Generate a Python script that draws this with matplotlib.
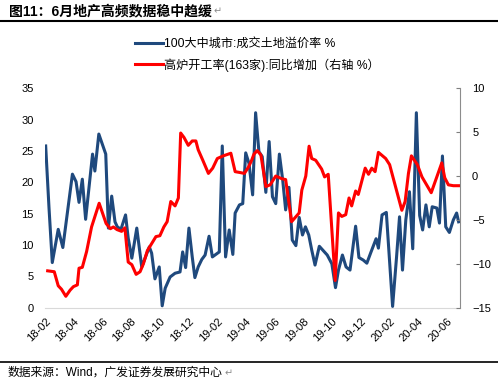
import numpy as np
import pandas as pd
import matplotlib
matplotlib.use('Agg')
import matplotlib.pyplot as plt
import matplotlib.dates as mdates
from matplotlib.lines import Line2D
from matplotlib.text import Annotation

plt.rcParams['font.family'] = ['Liberation Sans', 'Noto Sans CJK SC', 'DejaVu Sans']

# ─── data (weeks since 2018-02-01) ─────────────────────────────────────────
start = pd.Timestamp('2018-02-01')

blue_t = [0, 1, 2, 3.8, 5.2, 8.1, 9.2, 10.1, 11.1, 12.1,
          14.2, 14.9, 16.1, 18.2, 19.0, 20.0, 21.0, 21.7, 22.8, 24.2,
          25.0, 26.1, 27.6, 29.1, 31.4, 32.1, 33.1, 34.4, 35.3, 36.2,
          37.7, 39.2, 40.7, 41.5, 42.4, 43.4, 44.4, 45.2, 46.2, 47.3,
          48.3, 49.5, 50.5, 52.6, 53.5, 54.5, 55.6, 56.7, 57.4, 58.7,
          59.7, 60.6, 61.6, 62.7, 63.6, 64.6, 65.6, 66.7, 67.7, 68.7,
          69.7, 70.8, 71.8, 72.7, 73.7, 74.7, 75.8, 76.8, 77.8, 78.7,
          79.7, 80.6, 81.6, 82.9, 85.3, 86.7, 87.8, 88.7, 89.9,
          91.0, 92.2, 93.9, 94.9, 96.2, 97.3, 98.5, 100.1, 100.8, 101.9,
          103.2, 105.1, 106.3, 107.2, 108.1, 109.1, 110.2, 111.2, 112.3, 113.3,
          114.2, 115.2, 116.2, 117.1, 118.5, 119.3, 120.2, 121.2, 122.3, 123.5,
          124.5, 125.1]
blue_v = [25.8, 16.0, 7.2, 12.5, 9.6, 21.3, 20.1, 16.8, 20.5, 14.1,
          24.5, 21.8, 27.7, 24.5, 12.7, 17.8, 13.7, 12.9, 12.5, 14.8,
          11.1, 7.9, 12.7, 6.5, 9.7, 8.7, 4.6, 6.5, 0.3, 3.1,
          4.9, 5.5, 5.7, 8.9, 6.4, 12.7, 8.1, 4.8, 6.5, 7.7,
          8.4, 11.4, 8.1, 8.9, 25.8, 8.1, 12.4, 8.5, 15.1, 16.4,
          16.6, 24.7, 23.0, 18.0, 31.1, 24.9, 24.1, 18.4, 26.5, 17.7,
          16.6, 24.5, 20.4, 15.6, 19.2, 10.8, 9.9, 14.4, 11.6, 12.9,
          11.6, 9.2, 6.8, 9.8, 8.4, 7.0, 3.2, 6.0, 8.4,
          6.5, 6.0, 13.0, 8.0, 7.6, 7.1, 8.8, 11.0, 9.5, 14.8,
          15.2, 0.2, 8.1, 14.5, 6.0, 14.0, 18.5, 9.4, 31.1, 14.7,
          12.4, 16.4, 12.9, 16.1, 15.9, 13.5, 24.2, 12.9, 12.0, 14.0,
          15.1, 13.7]

red_t = [0.6, 2.6, 3.8, 4.8, 6.1, 7.4, 8.4, 9.6, 10.1, 11.1,
         12.4, 13.9, 16.2, 18.3, 19.6, 20.5, 21.6, 23.0, 24.0, 25.0,
         26.1, 27.4, 28.6, 29.6, 30.8, 32.1, 33.4, 34.6, 35.8, 36.8,
         37.9, 39.2, 40.2, 40.9, 41.9, 43.2, 44.4, 45.5, 46.2, 47.6,
         49.3, 50.6, 52.0, 53.8, 56.1, 57.4, 58.9, 60.2, 61.4, 62.4,
         63.1, 64.1, 65.2, 66.7, 68.0, 69.7, 71.5, 72.7, 74.5, 76.8,
         77.6, 78.8, 79.8, 80.6, 81.8, 83.6, 84.5, 85.6, 87.7, 88.7,
         89.7, 90.9, 91.9, 92.7, 93.9, 94.7, 96.8, 97.8, 98.8, 99.8,
         100.8, 103.0, 104.2, 107.9, 108.9, 109.9, 110.8, 112.6, 114.0, 116.8,
         120.0, 120.9, 122.0, 123.5, 125.2]
red_v = [-10.8, -10.9, -12.5, -12.9, -13.7, -13.0, -12.6, -12.4, -10.5, -10.4,
         -8.6, -5.8, -3.1, -5.4, -6.0, -5.8, -6.1, -6.3, -5.9, -9.8,
         -10.1, -11.2, -10.9, -10.0, -8.5, -7.7, -6.9, -6.8, -5.8, -5.2,
         -2.9, -3.4, -2.5, 4.9, 4.4, 3.5, 4.0, 4.0, 3.0, 1.8,
         0.3, 0.9, 2.0, 2.3, 2.6, 0.5, 0.4, 0.3, 1.0, 1.8,
         2.5, 2.9, 2.4, -1.2, -1.0, 0.0, -0.3, -0.4, -5.2, -4.2,
         -1.6, 0.0, 3.4, 2.0, 1.8, 0.8, -0.1, 0.2, -11.9, -4.2,
         -4.6, -4.4, -2.5, -3.4, -1.7, -2.1, 0.9, 0.2, 0.9, 0.5,
         2.7, 2.0, 1.3, -3.9, -2.9, 0.3, 2.3, 1.3, -0.1, -1.9,
         1.5, -0.2, -1.0, -1.1, -1.1]

tick_months = pd.date_range('2018-02-01', '2020-06-01', freq='2MS')

title = '图11：6月地产高频数据稳中趋缓'
source = '数据来源：Wind，广发证券发展研究中心'
label_blue = '100大中城市:成交土地溢价率 %'
label_red = '高炉开工率(163家):同比增加（右轴 %）'

blue_dates = start + pd.to_timedelta(np.array(blue_t) * 7, unit='D')
red_dates = start + pd.to_timedelta(np.array(red_t) * 7, unit='D')

# ─── figure ────────────────────────────────────────────────────────────────
fig = plt.figure(figsize=(4.98, 3.83), dpi=100)
ax = fig.add_axes([0.0904, 0.1966, 0.8325, 0.5729])
ax2 = ax.twinx()

l1, = ax.plot(blue_dates, blue_v, color='#1f497d', lw=2.2, label=label_blue)
l2, = ax2.plot(red_dates, red_v, color='#ff0000', lw=2.2, label=label_red)

ax.set_ylim(0, 35)
ax.set_yticks(range(0, 36, 5))
ax2.set_ylim(-15, 10)
ax2.set_yticks(range(-15, 11, 5))
ax.set_xlim(start - pd.Timedelta(days=1.4), start + pd.Timedelta(days=125.4 * 7))
ax.set_xticks(tick_months)
ax.xaxis.set_major_formatter(mdates.DateFormatter('%y-%m'))
for lab in ax.get_xticklabels():
    lab.set_rotation(45)
    lab.set_ha('right')
    lab.set_rotation_mode('anchor')

ax.tick_params(axis='x', length=0, pad=6, labelsize=8)
ax.tick_params(axis='y', length=0, pad=8, labelsize=8)
ax2.tick_params(axis='y', direction='in', length=3, color='#7f7f7f', pad=9, labelsize=8)

for s in ['top', 'left', 'right']:
    ax.spines[s].set_visible(False)
ax.spines['bottom'].set_color('#d9d9d9')
for s in ['top', 'left', 'bottom']:
    ax2.spines[s].set_visible(False)
ax2.spines['right'].set_color('#8c8c8c')

fig.legend(handles=[l1, l2], loc='upper left', bbox_to_anchor=(0.271, 0.9),
           frameon=False, fontsize=8.7, handlelength=2.3, handletextpad=0.1,
           labelspacing=0.65, borderpad=0, borderaxespad=0)

# 标题 / 来源
t = fig.text(0.018, 0.971, title, fontsize=10, fontweight='bold', va='center', ha='left')
s = fig.text(0.016, 0.026, source, fontsize=8.5, va='center', ha='left')
for art in (t, s):
    fig.add_artist(Annotation('↵', xy=(1, 0.5), xycoords=art, xytext=(1, 0),
                              textcoords='offset points', va='center', ha='left',
                              fontsize=7, color='#8c8c8c', family='DejaVu Sans'))
fig.add_artist(Line2D([0, 1], [0.945, 0.945], color='black', lw=1.5))
fig.add_artist(Line2D([0, 1], [0.055, 0.055], color='black', lw=1.2))

plt.savefig('out.png', dpi=100)
